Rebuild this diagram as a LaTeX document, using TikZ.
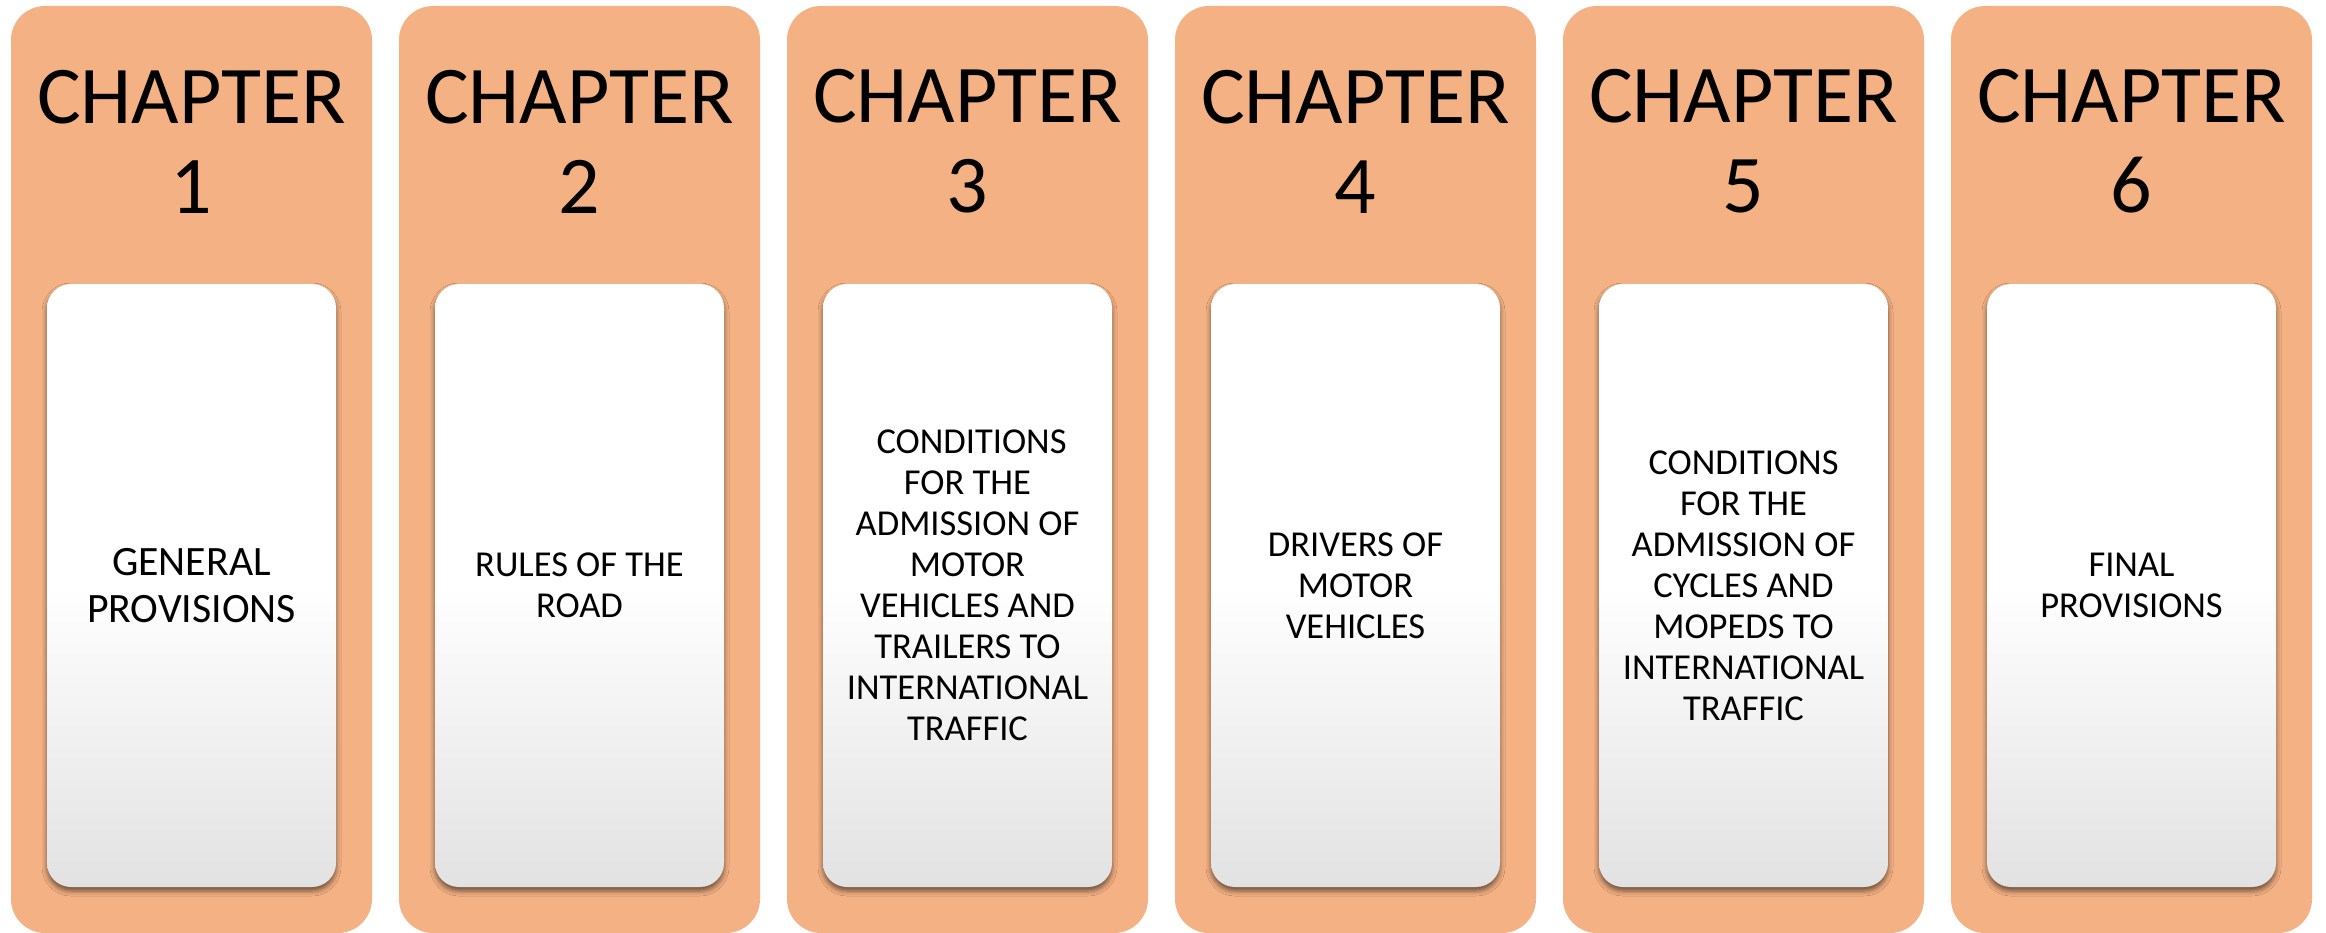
\documentclass[tikz,border=0pt]{standalone}
\usepackage{fontspec}
\setmainfont{Carlito}
\usetikzlibrary{shadows.blur}
\definecolor{outerfill}{HTML}{F4B183}
\definecolor{innerbottom}{HTML}{E2E2E2}
\begin{document}
\begin{tikzpicture}[x=1pt,y=-1pt,
  outerbox/.style={rectangle, fill=outerfill, rounded corners=34pt,
    minimum width=361pt, minimum height=927pt, inner sep=0pt},
  innerbox/.style={rectangle, rounded corners=24pt, inner sep=0pt,
    minimum width=289pt, minimum height=603pt,
    top color=white, bottom color=innerbottom, middle color=white,
    blur shadow={shadow xshift=0pt, shadow yshift=-4pt,
      shadow blur radius=5pt, shadow opacity=55}},
  headtext/.style={align=center, inner sep=0pt, text=black,
    font={\fontsize{82pt}{90pt}\selectfont}},
  bodytext/.style={align=center, inner sep=0pt, text=black,
    font={\fontsize{36.5pt}{41pt}\selectfont}},
  bigbodytext/.style={bodytext, font={\fontsize{41.8pt}{46.7pt}\selectfont}}]
\useasboundingbox (0,0) rectangle (2326,933);
\fill[white] (0,0) rectangle (2326,933);
\foreach \i/\s/\t in {1/bigbodytext/{GENERAL\\PROVISIONS},
                   2/bodytext/{RULES OF THE\\ROAD},
                   3/bodytext/{\hspace*{8pt}CONDITIONS\\FOR THE\\ADMISSION OF\\MOTOR\\VEHICLES AND\\TRAILERS TO\\INTERNATIONAL\\TRAFFIC},
                   4/bodytext/{DRIVERS OF\\MOTOR\\VEHICLES},
                   5/bodytext/{CONDITIONS\\FOR THE\\ADMISSION OF\\CYCLES AND\\MOPEDS TO\\INTERNATIONAL\\TRAFFIC},
                   6/bodytext/{FINAL\\PROVISIONS}}{
  \pgfmathsetmacro{\cx}{191.5+388*(\i-1)}
  \node[outerbox] (ch\i) at (\cx,469.5) {};
  \node[headtext] (hd\i) at (\cx,141.5) {CHAPTER\\\i};
  \node[innerbox] (in\i) at (\cx,585.5) {};
  \node[\s] (tx\i) at (in\i.center) {\t};
}
\end{tikzpicture}
\end{document}
